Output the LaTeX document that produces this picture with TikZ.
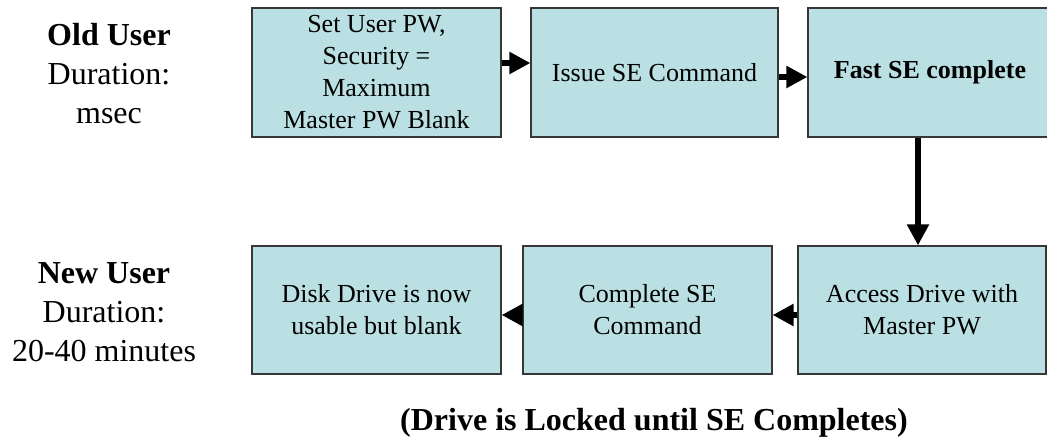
\documentclass[tikz,border=0pt]{standalone}
\usepackage{fontspec}
\setmainfont{Liberation Serif}
\usetikzlibrary{arrows.meta}
\definecolor{boxfill}{RGB}{186,224,227}
\definecolor{boxline}{RGB}{55,55,55}
\begin{document}
\begin{tikzpicture}[x=1pt,y=-1pt,
  stepbox/.style={draw=boxline,line width=1.2pt,fill=boxfill,inner sep=0pt,
    minimum height=129pt,align=center,font=\fontsize{26}{32}\selectfont},
  arr/.style={line width=6pt,-{Triangle[length=21pt,width=21pt]}},
  lbl/.style={align=center,font=\fontsize{32}{39}\selectfont}]
\useasboundingbox (0,0) rectangle (1047,441);
\fill[white] (0,0) rectangle (1047,441);
% top row
\node[stepbox,minimum width=249pt] (b1) at (376.5,72.5) {Set User PW,\\Security =\\Maximum\\Master PW Blank};
\node[stepbox,minimum width=247pt] (b2) at (654.5,72.5) {Issue SE Command};
\node[stepbox,minimum width=244pt] (b3) at (930,72.5) {\textbf{Fast SE complete}};
% bottom row
\node[stepbox,minimum width=249pt,minimum height=128pt] (b4) at (376.5,310) {Disk Drive is now\\usable but blank};
\node[stepbox,minimum width=249pt,minimum height=128pt] (b5) at (647.5,310) {Complete SE\\Command};
\node[stepbox,minimum width=248pt,minimum height=128pt] (b6) at (922,310) {Access Drive with\\Master PW};
% labels
\node[lbl] (old) at (109,74) {\textbf{Old User}\\Duration:\\msec};
\node[lbl] (new) at (104,312) {\textbf{New User}\\Duration:\\20-40 minutes};
\node[font=\fontsize{32}{38}\selectfont\bfseries] (cap) at (654,423) {(Drive is Locked until SE Completes)};
% arrows
\draw[arr] ([yshift=9.5pt]b1.east) -- ([yshift=9.5pt]b2.west);
\draw[arr] ([yshift=-4.5pt]b2.east) -- ([yshift=-4.5pt]b3.west);
\coordinate (dtop) at ([xshift=-4pt]b6.north |- b3.south);
\draw[arr] (dtop) -- ([xshift=-4pt]b6.north);
\draw[arr] ([yshift=-5pt]b6.west) -- ([yshift=-5pt]b5.east);
\draw[arr] ([yshift=-5pt]b5.west) -- ([yshift=-5pt]b4.east);
\end{tikzpicture}
\end{document}
